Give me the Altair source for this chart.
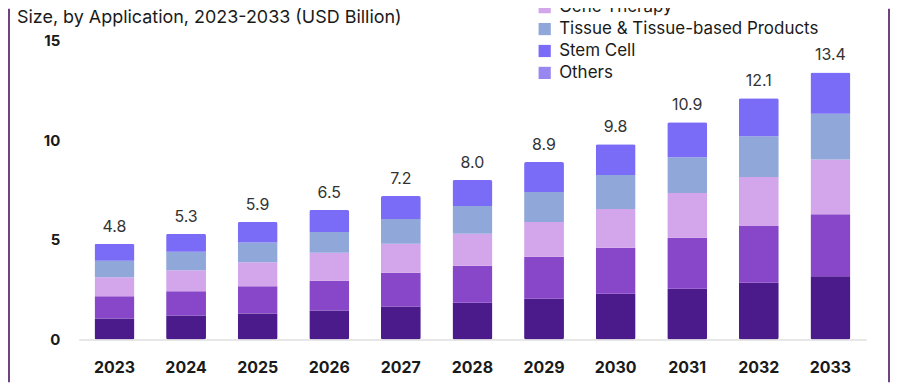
import altair as alt
import pandas as pd

years = [str(y) for y in range(2023, 2034)]
totals = [4.8, 5.3, 5.9, 6.5, 7.2, 8.0, 8.9, 9.8, 10.9, 12.1, 13.4]

series_names = ["Cell Therapy", "Small Molecule & Biologics", "Gene Therapy",
                "Tissue & Tissue-based Products", "Stem Cell", "Others"]
series_colors = ["#4b1a8b", "#8846c9", "#d3a6eb", "#90a7da", "#7a6cf7", "#9887f0"]

cell_therapy = [1.05, 1.20, 1.30, 1.45, 1.65, 1.85, 2.05, 2.30, 2.55, 2.85, 3.17]
small_molecule = [1.12, 1.22, 1.37, 1.50, 1.70, 1.85, 2.10, 2.30, 2.55, 2.85, 3.11]
gene_therapy = [0.95, 1.05, 1.21, 1.40, 1.45, 1.60, 1.75, 1.95, 2.25, 2.45, 2.75]
tissue = [0.83, 0.93, 0.99, 1.05, 1.25, 1.40, 1.50, 1.70, 1.80, 2.05, 2.30]
stem_cell = [0.85, 0.90, 1.03, 1.10, 1.15, 1.30, 1.50, 1.55, 1.75, 1.90, 2.07]

title_text = "Size, by Application, 2023-2033 (USD Billion)"
y_ticks = [0, 5, 10, 15]

FONT = "Inter"

rows = []
for idx, (name, vals) in enumerate(zip(series_names[:5],
                                       [cell_therapy, small_molecule, gene_therapy, tissue, stem_cell])):
    for yr, v in zip(years, vals):
        rows.append({"year": yr, "series": name, "value": v, "ord": idx})
df = pd.DataFrame(rows)
tot_df = pd.DataFrame({"year": years, "total": totals})

x_enc = alt.X("year:N", sort=years, title=None,
              scale=alt.Scale(paddingInner=0.443, paddingOuter=0.22),
              axis=alt.Axis(labelAngle=0, labelFont=FONT, labelFontSize=16, labelFontWeight="bold",
                            labelColor="#1a1a1a", labelPadding=20, ticks=False,
                            domainColor="#cfcfcf", domainWidth=1))

bars = alt.Chart(df).mark_bar(cornerRadius=2).encode(
    x=x_enc,
    y=alt.Y("value:Q", stack="zero", title=None,
            scale=alt.Scale(domain=[0, 15], nice=False),
            axis=alt.Axis(values=y_ticks, grid=False, domain=False, ticks=False,
                          labelFont=FONT, labelFontSize=15, labelFontWeight="bold",
                          labelColor="#1a1a1a", labelPadding=19)),
    color=alt.Color("series:N", scale=alt.Scale(domain=series_names, range=series_colors),
                    legend=alt.Legend(orient="none", legendX=459, legendY=-86, title=None,
                                      symbolType="square", symbolSize=150, symbolStrokeWidth=0,
                                      labelFont=FONT, labelFontSize=17, labelColor="#1a1a1a",
                                      labelLimit=0, rowPadding=4, labelOffset=6)),
    order=alt.Order("ord:Q", sort="ascending"),
)

labels = alt.Chart(tot_df).mark_text(dy=-17, font=FONT, fontSize=16, color="#333333").encode(
    x=alt.X("year:N", sort=years),
    y=alt.Y("total:Q"),
    text=alt.Text("total:Q", format=".1f"),
)

title = alt.Chart(pd.DataFrame({"t": [title_text]})).mark_text(
    align="left", baseline="middle", font=FONT, fontSize=18, color="#1a1a1a"
).encode(x=alt.value(-62), y=alt.value(-23), text="t:N")

frame = pd.DataFrame({"k": [0]})
left_border = alt.Chart(frame).mark_rule(color="#6e4480", strokeWidth=2).encode(
    x=alt.value(-70), y=alt.value(-32), y2=alt.value(343))
right_border = alt.Chart(frame).mark_rule(color="#6e4480", strokeWidth=2).encode(
    x=alt.value(813), y=alt.value(-32), y2=alt.value(343))

chart = alt.layer(bars, labels, title, left_border, right_border).properties(
    width=790, height=300,
    autosize=alt.AutoSizeParams(type="none"),
    padding={"left": 71, "top": 32, "right": 25, "bottom": 43},
    background="white",
).configure_view(stroke=None)

chart.save("out.html", embed_options={"renderer": "svg", "actions": False})
